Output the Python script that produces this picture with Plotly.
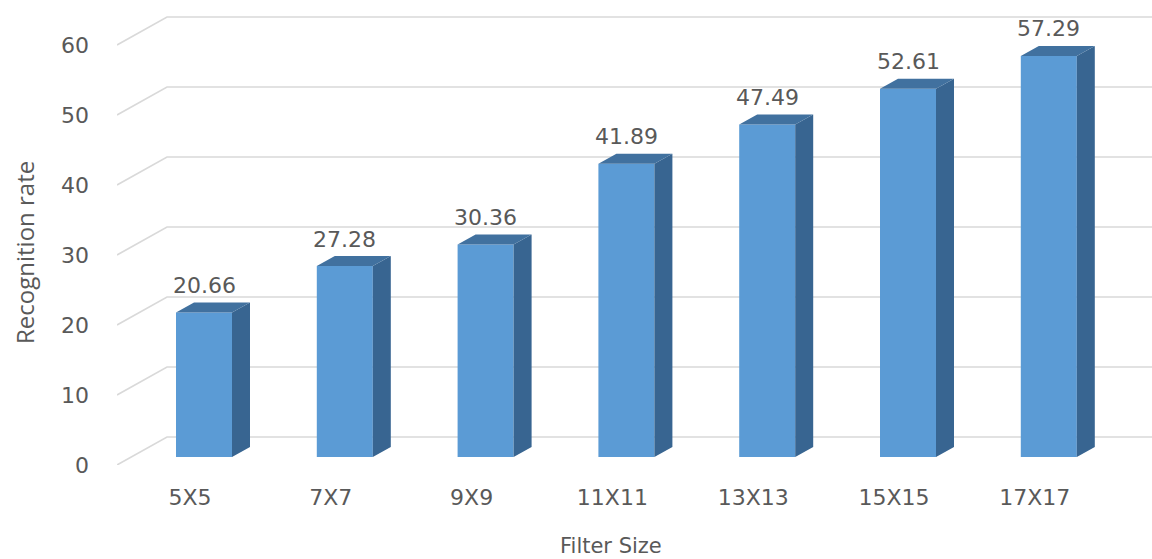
import plotly.graph_objects as go

# ---- data ----
categories = ["5X5", "7X7", "9X9", "11X11", "13X13", "15X15", "17X17"]
rates = [20.66, 27.28, 30.36, 41.89, 47.49, 52.61, 57.29]
y_ticks = [0, 10, 20, 30, 40, 50, 60]
x_title = "Filter Size"
y_title = "Recognition rate"

# ---- pixel geometry ----
W, H = 1152, 559
L, R, T, B = 117, 0, 0, 94
x0_px = 190.0      # pixel x of first category (front plane)
sx = 140.8         # px per category
sy = 7.0           # px per unit of value
plot_w = W - L - R
plot_h = H - T - B

x_lo = (L - x0_px) / sx
x_hi = x_lo + plot_w / sx
y_lo = 0.0
y_hi = plot_h / sy

# 3D offsets (px right, px up)
bar_front = (14, 8)
bar_depth = (18, 10)
wall_depth = (50, 28)

bx, by = bar_front[0] / sx, bar_front[1] / sy
dx, dy = bar_depth[0] / sx, bar_depth[1] / sy
wx, wy = wall_depth[0] / sx, wall_depth[1] / sy
bw = 56 / sx

FRONT = "#5B9BD5"
SIDE = "#386591"
TOP = "#41719F"
GRID = "#D9D9D9"
TXT = "#595959"
NUMFONT = "DejaVu Sans"

fig = go.Figure()

# gridlines: side wall diagonal + back wall horizontal
gx, gy = [], []
for t in y_ticks:
    gx += [x_lo, x_lo + wx, x_hi, None]
    gy += [t, t + wy, t + wy, None]
fig.add_trace(go.Scatter(x=gx, y=gy, mode="lines", line=dict(color=GRID, width=1.6),
                         hoverinfo="skip", showlegend=False, xaxis="x", yaxis="y"))

# bar front faces
xs = list(range(len(categories)))
fig.add_trace(go.Bar(x=xs, y=rates, width=bw, marker=dict(color=FRONT, line=dict(width=0)),
                     hoverinfo="skip", showlegend=False, xaxis="x2", yaxis="y2"))

# side and top faces
sxp, syp = [], []
txp, typ = [], []
for i, v in zip(xs, rates):
    xr = i + bw / 2
    xl = i - bw / 2
    sxp += [xr, xr + dx, xr + dx, xr, xr, None]
    syp += [0, dy, v + dy, v, 0, None]
    txp += [xl, xr, xr + dx, xl + dx, xl, None]
    typ += [v, v, v + dy, v + dy, v, None]
fig.add_trace(go.Scatter(x=sxp, y=syp, mode="lines", fill="toself", fillcolor=SIDE,
                         line=dict(width=0, color=SIDE), hoverinfo="skip", showlegend=False,
                         xaxis="x2", yaxis="y2"))
fig.add_trace(go.Scatter(x=txp, y=typ, mode="lines", fill="toself", fillcolor=TOP,
                         line=dict(width=0, color=TOP), hoverinfo="skip", showlegend=False,
                         xaxis="x2", yaxis="y2"))

# data labels
for i, v in zip(xs, rates):
    fig.add_annotation(x=i, y=v, xref="x2", yref="y2", text=f"{v:.2f}", showarrow=False,
                       yanchor="middle", yshift=27, font=dict(family=NUMFONT, size=22, color=TXT))

# axis titles as annotations
fig.add_annotation(x=(611 - L) / plot_w, y=-(546 - (H - B)) / plot_h, xref="paper", yref="paper",
                   text=x_title, showarrow=False, xanchor="center", yanchor="middle",
                   font=dict(family=NUMFONT, size=21, color=TXT))
fig.add_annotation(x=-(L - 24) / plot_w, y=((H - B) - 253) / plot_h, xref="paper", yref="paper",
                   text=y_title, showarrow=False, textangle=-90, xanchor="center", yanchor="middle",
                   font=dict(family="Open Sans", size=24, color=TXT))

fig.update_layout(
    width=W, height=H,
    margin=dict(l=L, r=R, t=T, b=B, pad=0),
    paper_bgcolor="white", plot_bgcolor="white",
    showlegend=False,
    xaxis=dict(range=[x_lo, x_hi], tickvals=xs, ticktext=categories, showgrid=False,
               zeroline=False, showline=False, ticks="", ticklabelstandoff=17,
               tickfont=dict(family=NUMFONT, size=22, color=TXT), fixedrange=True),
    yaxis=dict(range=[y_lo, y_hi], tickvals=y_ticks, showgrid=False, zeroline=False,
               showline=False, ticks="", ticklabelstandoff=27,
               tickfont=dict(family=NUMFONT, size=22, color=TXT), fixedrange=True),
    xaxis2=dict(range=[x_lo - bx, x_hi - bx], overlaying="x", visible=False, fixedrange=True),
    yaxis2=dict(range=[y_lo - by, y_hi - by], overlaying="y", anchor="x2", visible=False,
                fixedrange=True),
)

fig.write_html("out.html")
